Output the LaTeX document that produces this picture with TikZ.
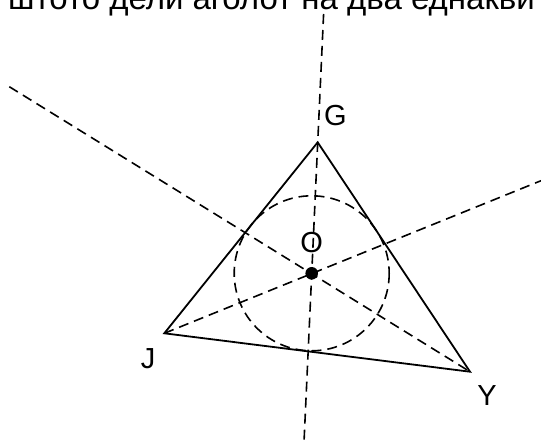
\documentclass[tikz,border=0pt]{standalone}
\usepackage{fontspec}
\setmainfont{Liberation Sans}
\usetikzlibrary{calc}
\definecolor{LineBlack}{RGB}{0,0,0}

\begin{document}
\begin{tikzpicture}[x=1pt,y=-1pt,
  side/.style={line width=1.8pt,LineBlack},
  bisector/.style={line width=1.6pt,LineBlack,dash pattern=on 10pt off 6pt},
  vertexlabel/.style={font=\fontsize{29}{29}\selectfont,inner sep=0pt}]
  \useasboundingbox (0,0) rectangle (541,440);
  \coordinate (G) at (317.7,142.3);
  \coordinate (J) at (164.3,333.3);
  \coordinate (Y) at (470,371.7);
  \coordinate (O) at (311.7,273.3);
  \coordinate (Gtop) at (323.6,14);
  \coordinate (Gbottom) at (304.1,440);
  \coordinate (Jend) at (541,180.7);
  \coordinate (Yend) at (9.3,86.7);
  \node[anchor=base west,font=\fontsize{33}{33}\selectfont,inner sep=0pt] (caption) at (8,9.5)
  {штото дели аголот на два еднакви};
  \draw[side] (G) -- (J) -- (Y) -- cycle;
  \draw[bisector] (Gtop) -- (Gbottom);
  \draw[bisector] (J) -- (Jend);
  \draw[bisector] (Yend) -- (Y);
  \draw[bisector] (O) circle (77.5);
  \fill[LineBlack] (O) circle (6.3);
  \node[vertexlabel] (labelG) at (335.5,116) {G};
  \node[vertexlabel] (labelO) at (311.7,243) {O};
  \node[vertexlabel] (labelJ) at (148,359) {J};
  \node[vertexlabel] (labelY) at (487,396) {Y};
\end{tikzpicture}
\end{document}
